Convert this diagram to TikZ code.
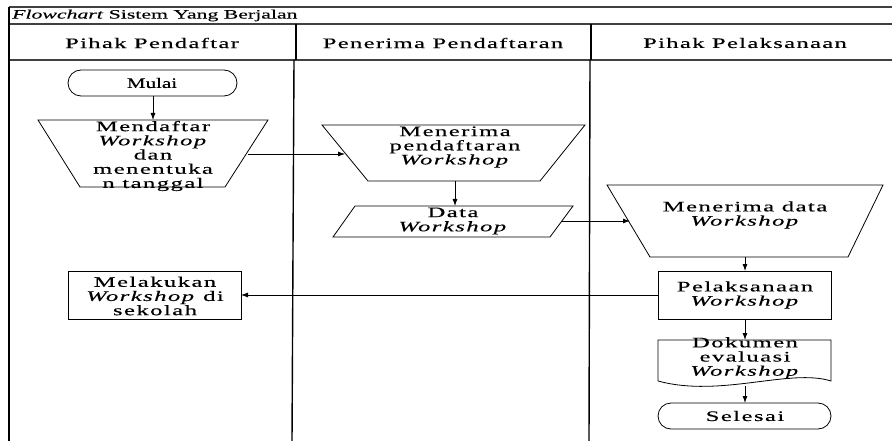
\documentclass[tikz,border=0pt]{standalone}
\usepackage{fontspec}
\setmainfont{Liberation Serif}[FakeStretch=1.7,LetterSpace=10,FakeBold=0.3]
\newfontfamily\hdrfont{Liberation Serif}[FakeStretch=1.7,LetterSpace=9,FakeBold=0.3]
\newfontfamily\ttlfont{Liberation Serif}[FakeStretch=1.7,FakeBold=0.3]
\newfontfamily\narrowfont{Liberation Serif}[FakeStretch=1.45,FakeBold=0.5]
\usetikzlibrary{arrows.meta}
\begin{document}
\begin{tikzpicture}[x=1pt,y=-1pt,
  frame/.style={line width=1.2pt,draw=black!75},
  lane/.style={line width=1.4pt,draw=black},
  shp/.style={line width=0.8pt,draw=black},
  txt/.style={align=center,inner sep=0pt,font=\fontsize{14.5}{14.2}\selectfont},
  hdr/.style={inner sep=0pt,font=\hdrfont\fontsize{14.5}{14}\selectfont},
  conn/.style={line width=0.8pt,-{Latex[length=7pt,width=5pt]}}]
\useasboundingbox (0,0) rectangle (892,441);
% table frame
\draw[frame] (9,7) -- (892,7);
\draw[frame] (9,24) -- (892,24);
\draw[frame] (9,60) -- (892,60);
\draw[lane] (9,7) -- (9,441);
\draw[lane] (296,24) -- (296,60);
\draw[lane] (294,60) -- (292,441);
\draw[lane] (591,24) -- (591,60);
\draw[lane] (590,60) -- (589,441);
\node[anchor=west,inner sep=0pt,font=\ttlfont\fontsize{12.8}{14}\selectfont] (title) at (12,15.5) {\textit{Flowchart} Sistem Yang Berjalan};
\node[hdr] (h1) at (152,43) {Pihak Pendaftar};
\node[hdr] (h2) at (443,43) {Penerima Pendaftaran};
\node[hdr] (h3) at (745,43) {Pihak Pelaksanaan};
% Mulai
\node[txt,font=\narrowfont\fontsize{14.5}{14}\selectfont] (mulai) at (152,83) {Mulai};
\draw[shp,rounded corners=13pt] (68,70) rectangle (237,96);
% Mendaftar (manual operation)
\draw[shp] (38,120) -- (268,120) -- (225,187) -- (80,187) -- cycle;
\node[txt] (daftar) at (153,156) {Mendaftar\\\textit{Workshop}\\dan\\menentuka\\n tanggal};
% Menerima pendaftaran
\draw[shp] (322,125) -- (585,125) -- (540,181) -- (368,181) -- cycle;
\node[txt] (terima) at (455,147) {Menerima\\pendaftaran\\\textit{Workshop}};
% Data Workshop
\draw[shp] (355,206) -- (573,206) -- (550,237) -- (333,237) -- cycle;
\node[txt] (data) at (453,221) {Data\\\textit{Workshop}};
% Menerima data
\draw[shp] (607,185) -- (883,185) -- (848,257) -- (650,257) -- cycle;
\node[txt] (tdata) at (745,215) {Menerima data\\\textit{Workshop}};
% Pelaksanaan
\draw[shp] (658,271) rectangle (831,319);
\node[txt] (pelak) at (745,295) {Pelaksanaan\\\textit{Workshop}};
% Melakukan
\draw[shp] (68,271) rectangle (241,319);
\node[txt] (melak) at (155,296) {Melakukan\\\textit{Workshop} di\\sekolah};
% Dokumen
\draw[shp] (658,381) -- (658,340) -- (831,340) -- (831,381)
  .. controls (790,368) and (720,398) .. (658,381);
\node[txt] (dok) at (745,358) {Dokumen\\evaluasi\\\textit{Workshop}};
% Selesai
\node[txt] (selesai) at (745,416) {Selesai};
\draw[shp,rounded corners=13pt] (658,403) rectangle (831,429);
% coordinates for connectors
\coordinate (c1a) at (153,96);
\coordinate (c1b) at (153,120);
\coordinate (c2a) at (248,154);
\coordinate (c2b) at (345,154);
\coordinate (c3a) at (455,181);
\coordinate (c3b) at (455,206);
\coordinate (c4a) at (562,221);
\coordinate (c4b) at (630,221);
\coordinate (c5a) at (745,257);
\coordinate (c5b) at (745,271);
\coordinate (c6a) at (658,295);
\coordinate (c6b) at (241,295);
\coordinate (c7a) at (745,319);
\coordinate (c7b) at (745,340);
\coordinate (c8a) at (745,386);
\coordinate (c8b) at (745,403);
\draw[conn] (c1a) -- (c1b);
\draw[conn] (c2a) -- (c2b);
\draw[conn] (c3a) -- (c3b);
\draw[conn] (c4a) -- (c4b);
\draw[conn] (c5a) -- (c5b);
\draw[conn] (c6a) -- (c6b);
\draw[conn] (c7a) -- (c7b);
\draw[conn] (c8a) -- (c8b);
\end{tikzpicture}
\end{document}
